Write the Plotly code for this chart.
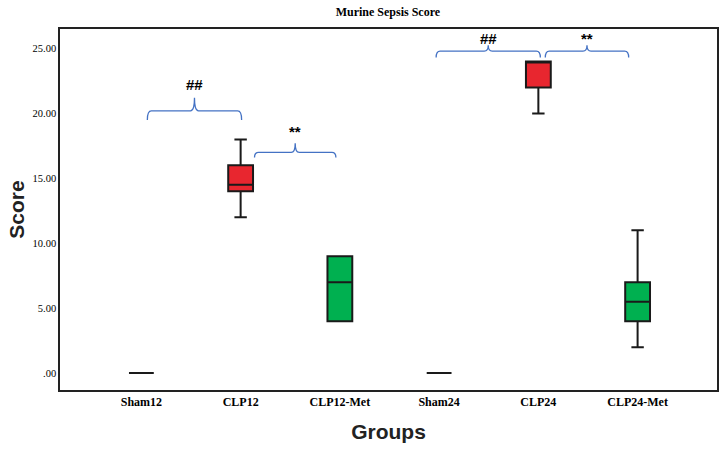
import plotly.graph_objects as go

groups = ["Sham12", "CLP12", "CLP12-Met", "Sham24", "CLP24", "CLP24-Met"]
lower_whisker = [0, 12, 4, 0, 20, 2]
q1_values = [0, 14, 4, 0, 22, 4]
median_values = [0, 14.5, 7, 0, 24, 5.5]
q3_values = [0, 16, 9, 0, 24, 7]
upper_whisker = [0, 18, 9, 0, 24, 11]
box_colors = ["#FFFFFF", "#E8262F", "#00B050", "#FFFFFF", "#E8262F", "#00B050"]

y_tick_vals = [0, 5, 10, 15, 20, 25]
y_tick_text = [".00", "5.00", "10.00", "15.00", "20.00", "25.00"]

# significance brackets: (x_left, x_right, y_end, y_line, y_tip, label, label_y)
brackets = [
    (0.06, 1.01, 19.5, 20.2, 21.2, "##", 22.2),
    (1.14, 1.96, 16.6, 17.0, 17.7, "**", 18.6),
    (2.97, 4.02, 24.3, 24.8, 25.25, "##", 25.75),
    (4.07, 4.91, 24.3, 24.8, 25.25, "**", 25.75),
]

fig = go.Figure()
for i, g in enumerate(groups):
    fig.add_trace(go.Box(
        x=[i], q1=[q1_values[i]], median=[median_values[i]], q3=[q3_values[i]],
        lowerfence=[lower_whisker[i]], upperfence=[upper_whisker[i]],
        fillcolor=box_colors[i], line=dict(color="#1a1a1a", width=2),
        width=0.25, whiskerwidth=0.5, boxpoints=False, showlegend=False,
        hoverinfo="skip",
    ))

for (xl, xr, ye, yl, yt, lab, ly) in brackets:
    xm = (xl + xr) / 2
    dx = 0.04
    path = (f"M {xl} {ye} Q {xl} {yl} {xl+dx} {yl} L {xm-dx} {yl} "
            f"Q {xm} {yl} {xm} {yt} Q {xm} {yl} {xm+dx} {yl} "
            f"L {xr-dx} {yl} Q {xr} {yl} {xr} {ye}")
    fig.add_shape(type="path", path=path, xref="x", yref="y",
                  line=dict(color="#4472C4", width=1.3))
    fig.add_annotation(x=xm, y=ly, text=f"<b>{lab}</b>", showarrow=False, xref="x", yref="y",
                       font=dict(family="Liberation Sans", size=15, color="black"))

fig.update_layout(
    width=725, height=450,
    margin=dict(l=60, r=6, t=29, b=60),
    paper_bgcolor="white", plot_bgcolor="white",
    boxmode="overlay",
    title=dict(text="<b>Murine Sepsis Score</b>", x=0.535, xanchor="center", y=0.973,
               yanchor="middle", font=dict(family="Liberation Serif", size=12, color="black")),
    xaxis=dict(
        tickmode="array", tickvals=list(range(len(groups))),
        ticktext=[f"<b>{g}</b>" for g in groups],
        range=[-0.82, 5.80], showgrid=False, zeroline=False,
        showline=True, linecolor="#222", linewidth=1.5, mirror=True,
        ticks="", tickfont=dict(family="Liberation Serif", size=12, color="black"),
        title=dict(text="<b>Groups</b>", font=dict(family="Liberation Sans", size=21, color="#222"),
                   standoff=16),
    ),
    yaxis=dict(
        tickmode="array", tickvals=y_tick_vals, ticktext=y_tick_text,
        range=[-1.3, 26.5], showgrid=False, zeroline=False,
        showline=True, linecolor="#222", linewidth=1.5, mirror=True,
        ticks="", tickfont=dict(family="Liberation Serif", size=10.5, color="black"),
        title=dict(text="<b>Score</b>", font=dict(family="Liberation Sans", size=21, color="#222"),
                   standoff=2),
    ),
)

fig.write_html("out.html", config={"displayModeBar": False},
               post_script="document.body.style.margin='0';")
